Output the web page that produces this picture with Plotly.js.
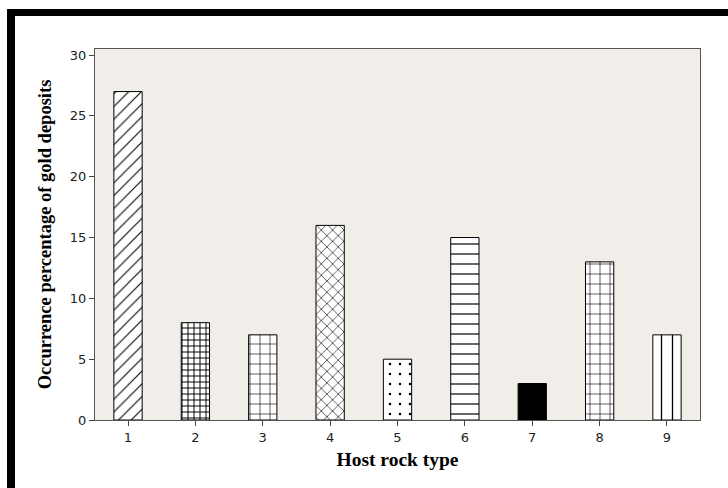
<!DOCTYPE html>
<html>
<head>
<meta charset="utf-8">
<script src="https://cdn.plot.ly/plotly-3.0.1.min.js"></script>
<style>
html,body{margin:0;padding:0;background:#fff;}
#wrap{position:relative;width:728px;height:488px;}
#chart{width:728px;height:488px;}
.bar{position:absolute;background:#000;pointer-events:none;}
</style>
</head>
<body>
<div id="wrap">
<div id="chart"></div>
<div class="bar" style="left:7px;top:9px;width:721px;height:7px;"></div>
<div class="bar" style="left:7px;top:9px;width:8px;height:479px;"></div>
</div>
<script>
const categories = [1, 2, 3, 4, 5, 6, 7, 8, 9];
const values = [27, 8, 7, 16, 5, 15, 3, 13, 7];
const tickLabels = ['1', '2', '3', '4', '5', '6', '7', '8', '9'];

const patternShapes = ['/', '+', '+', 'x', '.', '-', '', '+', '|'];
const patternSizes = [9, 6, 10, 8, 10, 10, 8, 10, 11];
const patternSolidity = [0.12, 0.3, 0.12, 0.15, 0.05, 0.12, 0.3, 0.12, 0.12];

const trace = {
  type: 'bar',
  x: categories,
  y: values,
  width: 0.42,
  marker: {
    color: 'black',
    line: {color: '#000', width: 1},
    pattern: {
      shape: patternShapes,
      size: patternSizes,
      solidity: patternSolidity,
      fgcolor: '#000',
      bgcolor: '#fff',
      fillmode: 'replace'
    }
  },
  hoverinfo: 'none'
};

const layout = {
  width: 728,
  height: 488,
  margin: {l: 95, r: 28, t: 49, b: 68},
  paper_bgcolor: '#fff',
  plot_bgcolor: '#f1eee9',
  showlegend: false,
  bargap: 0,
  xaxis: {
    range: [0.51, 9.49],
    tickvals: categories,
    ticktext: tickLabels,
    ticks: 'outside',
    ticklen: 5,
    tickcolor: '#444',
    showline: true,
    linecolor: '#555',
    linewidth: 1,
    mirror: true,
    showgrid: false,
    zeroline: false,
    tickfont: {family: 'DejaVu Sans', size: 13, color: '#222'},
    title: {text: 'Host rock type', font: {family: 'Liberation Serif', size: 19.5, color: '#000', weight: 'bold'}, standoff: 8}
  },
  yaxis: {
    range: [0, 30.5],
    tickvals: [0, 5, 10, 15, 20, 25, 30],
    ticks: 'outside',
    ticklen: 5,
    tickcolor: '#444',
    showline: true,
    linecolor: '#555',
    linewidth: 1,
    mirror: true,
    showgrid: false,
    zeroline: false,
    tickfont: {family: 'DejaVu Sans', size: 13, color: '#222'},
    title: {text: 'Occurrence percentage of gold deposits', font: {family: 'Liberation Serif', size: 18.5, color: '#000', weight: 'bold'}, standoff: 13}
  }
};

Plotly.newPlot('chart', [trace], layout, {staticPlot: true, displayModeBar: false});
</script>
</body>
</html>
